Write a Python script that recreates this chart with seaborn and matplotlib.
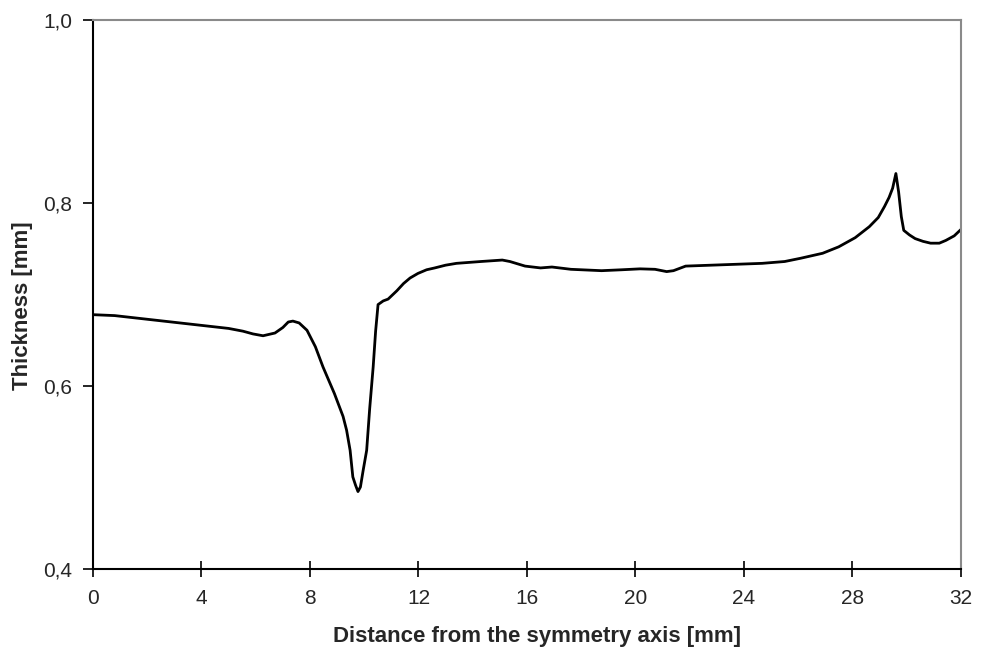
# thickness profile along the distance from the symmetry axis

import numpy as np
import pandas as pd
import seaborn as sns
import matplotlib.pyplot as plt
from matplotlib.ticker import FuncFormatter

distance = [0.0, 0.8, 2.0, 3.5, 5.0, 5.53, 5.9, 6.27, 6.71, 7.0, 7.2, 7.37, 7.6, 7.89,
            8.2, 8.48, 8.9, 9.22, 9.35, 9.48, 9.58, 9.68, 9.77, 9.86, 9.96, 10.09,
            10.2, 10.33, 10.42, 10.51, 10.7, 10.88, 11.2, 11.45, 11.69, 11.98, 12.3,
            12.6, 13.0, 13.4, 14.3, 15.09, 15.37, 15.93, 16.5, 16.92, 17.62, 18.75,
            19.5, 20.17, 20.72, 21.15, 21.4, 21.85, 23.26, 24.67, 25.5, 26.08, 26.9,
            27.49, 28.1, 28.62, 28.95, 29.18, 29.35, 29.48, 29.6, 29.7, 29.8, 29.89,
            30.1, 30.31, 30.6, 30.88, 31.2, 31.44, 31.75, 32.0]
thickness = [0.678, 0.677, 0.673, 0.668, 0.663, 0.660, 0.657, 0.655, 0.658, 0.664, 0.670,
             0.671, 0.669, 0.661, 0.643, 0.621, 0.592, 0.567, 0.552, 0.530, 0.501, 0.492,
             0.485, 0.490, 0.508, 0.530, 0.575, 0.621, 0.660, 0.689, 0.693, 0.695, 0.704,
             0.712, 0.718, 0.723, 0.727, 0.729, 0.732, 0.734, 0.736, 0.7376, 0.736,
             0.731, 0.729, 0.730, 0.7275, 0.726, 0.727, 0.728, 0.7275, 0.725, 0.726,
             0.731, 0.7325, 0.734, 0.736, 0.7395, 0.745, 0.752, 0.762, 0.774, 0.784,
             0.796, 0.806, 0.816, 0.832, 0.812, 0.785, 0.770, 0.765, 0.761, 0.758,
             0.756, 0.756, 0.759, 0.764, 0.771]

df = pd.DataFrame({'Distance': distance, 'Thickness': thickness})

sns.set_style("ticks")
plt.rcParams['font.family'] = ['Liberation Sans', 'DejaVu Sans']

fig = plt.figure(figsize=(9.9, 6.51), dpi=100)
ax = fig.add_axes([0.0939, 0.1252, 0.8768, 0.8448])

sns.lineplot(data=df, x='Distance', y='Thickness', ax=ax, color='black', linewidth=2.0)

ax.set_xlim(0, 32)
ax.set_ylim(0.4, 1.0)
ax.set_xticks(np.arange(0, 33, 4))
ax.set_yticks([0.4, 0.6, 0.8, 1.0])
ax.yaxis.set_major_formatter(FuncFormatter(lambda v, p: f"{v:.1f}".replace('.', ',')))
ax.tick_params(axis='x', labelsize=15, length=12, width=1.2, color='black',
               direction='inout', pad=8)
ax.tick_params(axis='y', labelsize=15, length=7, width=1.2, color='black',
               direction='out', pad=8)

for side in ['top', 'right']:
    ax.spines[side].set_color('#8a8a8a')
    ax.spines[side].set_linewidth(1.5)
for side in ['left', 'bottom']:
    ax.spines[side].set_color('black')
    ax.spines[side].set_linewidth(1.5)

ax.set_xlabel("Distance from the symmetry axis [mm]", fontsize=16, fontweight='bold')
ax.set_ylabel("Thickness [mm]", fontsize=16, fontweight='bold')
ax.xaxis.set_label_coords(0.512, -0.103)
ax.yaxis.set_label_coords(-0.069, 0.479)

plt.savefig("out.png", dpi=100)
